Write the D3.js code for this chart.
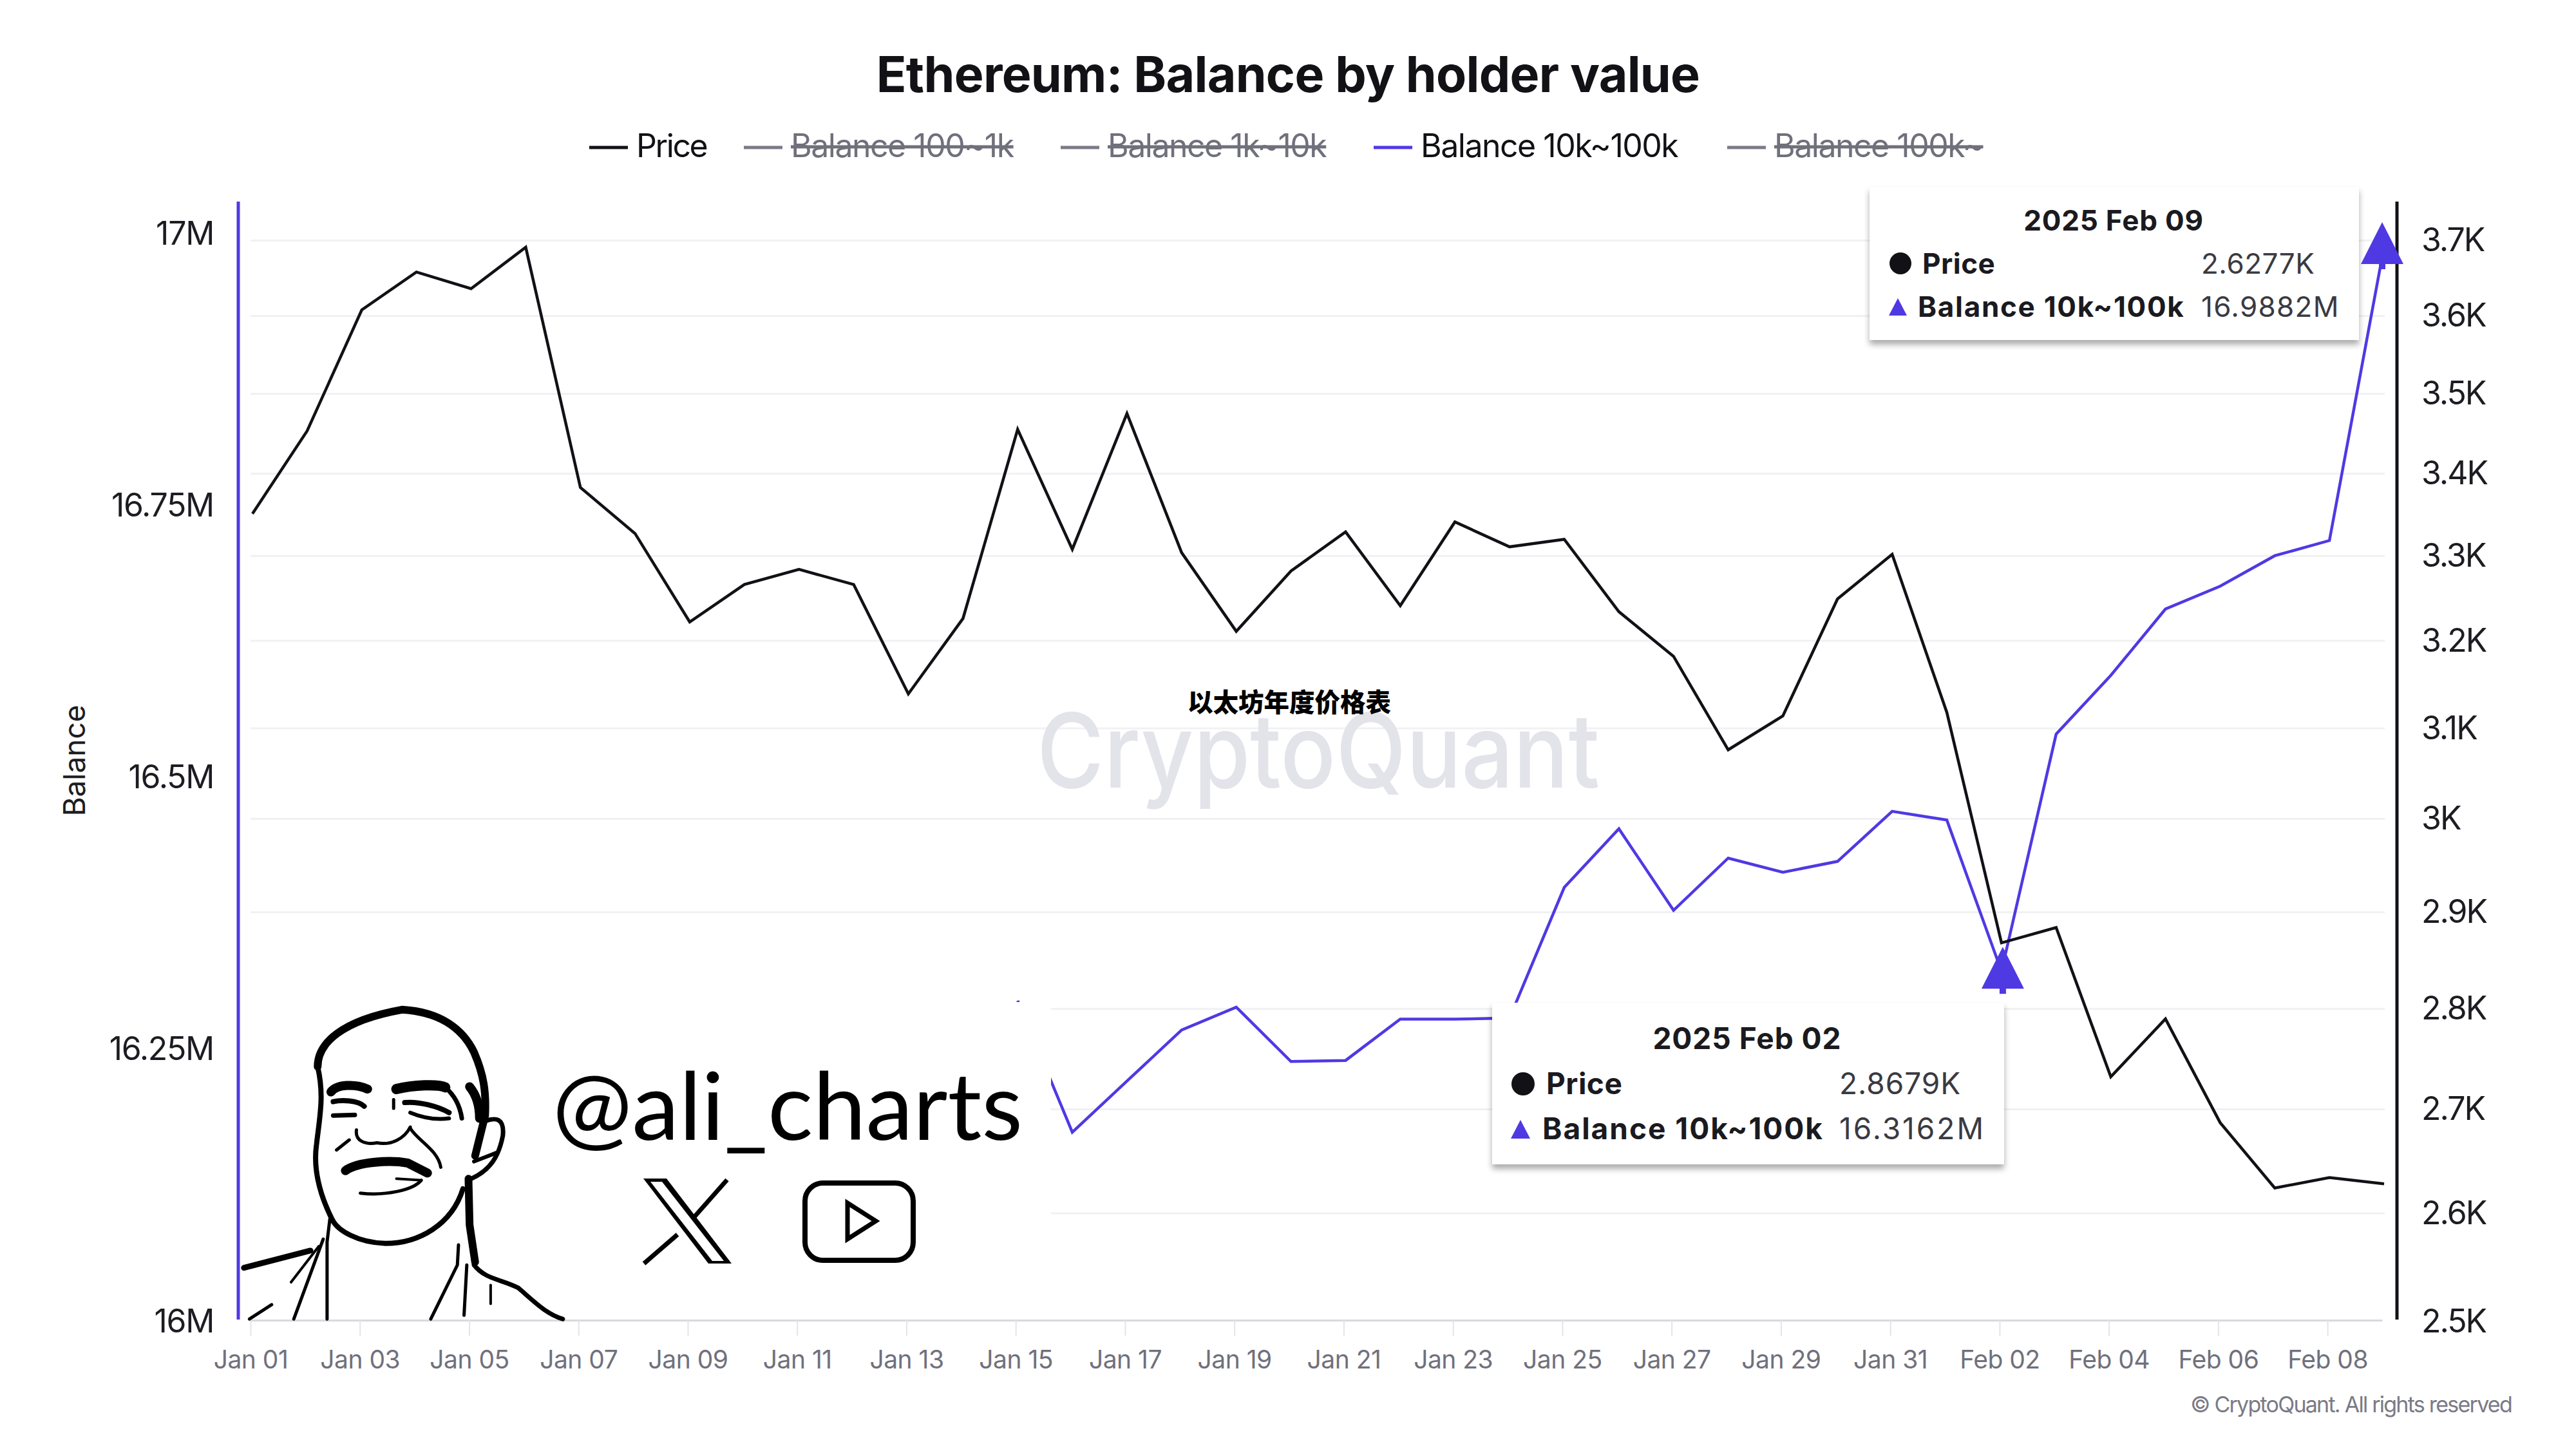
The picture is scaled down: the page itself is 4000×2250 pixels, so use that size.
<!DOCTYPE html>
<html>
<head>
<meta charset="utf-8">
<script src="https://d3js.org/d3.v7.min.js"></script>
<style>
  html, body { margin: 0; padding: 0; background: #fff; }
  text { font-family: Inter, "Noto Sans", sans-serif; }
</style>
</head>
<body>
<div id="chart-area"></div>
<script>
// --- Data ---
var days = ["Jan 01","Jan 02","Jan 03","Jan 04","Jan 05","Jan 06","Jan 07","Jan 08","Jan 09","Jan 10",
  "Jan 11","Jan 12","Jan 13","Jan 14","Jan 15","Jan 16","Jan 17","Jan 18","Jan 19","Jan 20",
  "Jan 21","Jan 22","Jan 23","Jan 24","Jan 25","Jan 26","Jan 27","Jan 28","Jan 29","Jan 30","Jan 31",
  "Feb 01","Feb 02","Feb 03","Feb 04","Feb 05","Feb 06","Feb 07","Feb 08","Feb 09"];

var price = [3351,3453,3608,3658,3636,3691,3383,3327,3222,3266,
  3284,3266,3139,3226,3455,3308,3475,3304,3211,3282,
  3329,3241,3341,3311,3320,3234,3182,3076,3114,3249,3302,
  3118,2868,2884,2732,2790,2687,2624,2634,2628];

// Jan 01 - Jan 14 sit behind the pasted sticker and cannot be read
var balance = [null,null,null,null,null,null,null,null,null,null,null,null,null,null,
  16.295,16.174,16.221,16.268,16.289,16.239,
  16.240,16.278,16.278,16.279,16.399,16.453,16.378,16.426,16.413,16.423,16.469,
  16.461,16.322,16.540,16.594,16.655,16.676,16.704,16.718,16.9882];

var xTickDays = days.filter(function(d, i) { return i % 2 === 0; });
var balanceTicks = [16, 16.25, 16.5, 16.75, 17];
var priceTicks = [2500,2600,2700,2800,2900,3000,3100,3200,3300,3400,3500,3600,3700];

var legendNames = ["Price", "Balance 100~1k", "Balance 1k~10k", "Balance 10k~100k", "Balance 100k~"];
var legendOff = [false, true, true, false, true];
var legendColors = ["#111116", "#7b7b88", "#7b7b88", "#4f39e3", "#7b7b88"];

var tipDates = ["2025 Feb 02", "2025 Feb 09"];
var tipPrices = ["2.8679K", "2.6277K"];
var tipBalances = ["16.3162M", "16.9882M"];
var markerDays = ["Feb 02", "Feb 09"];

var purple = "#4f39e3", ink = "#111116", grey = "#70707c";

// --- Setup the canvas ---
var svg = d3.select("#chart-area").append("svg")
    .attr("width", 4000)
    .attr("height", 2250)
    .style("display", "block");

var defs = svg.append("defs");
var shadow = defs.append("filter").attr("id", "tipShadow")
    .attr("x", "-5%").attr("y", "-5%").attr("width", "110%").attr("height", "115%");
shadow.append("feDropShadow")
    .attr("dx", 0).attr("dy", 7).attr("stdDeviation", 5)
    .attr("flood-color", "#000").attr("flood-opacity", 0.33);

// --- Scales ---
var plotTop = 316, plotBottom = 2052;
var x = d3.scalePoint().domain(days).range([392, 3702]);
var yLeft = d3.scaleLinear().domain([16, 16 + (plotBottom - plotTop) / 1689]).range([plotBottom, plotTop]);
var yRight = d3.scaleLog().domain([2500, 3750]).range([plotBottom, plotTop]);

// --- Gridlines follow the price axis ---
svg.append("g").selectAll("line").data(priceTicks.slice(1)).enter().append("line")
    .attr("x1", 389).attr("x2", 3703)
    .attr("y1", function(d) { return yRight(d); })
    .attr("y2", function(d) { return yRight(d); })
    .attr("stroke", "#f1f1f4").attr("stroke-width", 3);

// --- Watermark ---
svg.append("text").text("CryptoQuant")
    .attr("x", 1610).attr("y", 1223)
    .attr("font-size", 160).attr("font-weight", 500)
    .attr("textLength", 874).attr("lengthAdjust", "spacingAndGlyphs")
    .attr("fill", "#e3e3ea");

// --- Axes ---
var xAxis = d3.axisBottom(x).tickValues(xTickDays).tickSize(24).tickPadding(23).tickSizeOuter(0);
var xAxisGroup = svg.append("g")
    .attr("transform", "translate(-3,2050)")
    .call(xAxis);
xAxisGroup.select(".domain").attr("stroke", "#d9d9de").attr("stroke-width", 3);
xAxisGroup.selectAll(".tick line").attr("stroke", "#e4e4e8").attr("stroke-width", 2);
xAxisGroup.selectAll(".tick text").attr("font-size", 39).attr("letter-spacing", -0.5)
    .attr("fill", grey).style("font-family", "Inter");

var leftAxis = d3.axisLeft(yLeft).tickValues(balanceTicks).tickSize(0).tickPadding(38)
    .tickFormat(function(d) { return d + "M"; });
var leftAxisGroup = svg.append("g").attr("transform", "translate(370,0)").call(leftAxis);
leftAxisGroup.select(".domain").remove();
leftAxisGroup.selectAll(".tick text").attr("font-size", 50).attr("letter-spacing", -1.3)
    .attr("fill", "#1c1c22").style("font-family", "Inter");
leftAxisGroup.append("line").attr("y1", 313).attr("y2", 2049).attr("stroke", purple).attr("stroke-width", 5);

var rightAxis = d3.axisRight(yRight).tickValues(priceTicks).tickSize(0).tickPadding(38)
    .tickFormat(function(d) { return (d / 1000) + "K"; });
var rightAxisGroup = svg.append("g").attr("transform", "translate(3722,0)").call(rightAxis);
rightAxisGroup.select(".domain").remove();
rightAxisGroup.selectAll(".tick text").attr("font-size", 50).attr("letter-spacing", -2)
    .attr("fill", "#1c1c22").style("font-family", "Inter");
rightAxisGroup.append("line").attr("y1", 313).attr("y2", 2049).attr("stroke", ink).attr("stroke-width", 5);

svg.append("text").text("Balance")
    .attr("transform", "translate(115,1181) rotate(-90)")
    .attr("text-anchor", "middle").attr("dominant-baseline", "central")
    .attr("font-size", 46).attr("fill", "#1c1c22");

// --- Lines ---
var priceLine = d3.line()
    .x(function(d, i) { return x(days[i]); })
    .y(function(d) { return yRight(d); });
var balanceLine = d3.line()
    .defined(function(d) { return d !== null; })
    .x(function(d, i) { return x(days[i]); })
    .y(function(d) { return yLeft(d); });

svg.append("path").datum(balance).attr("d", balanceLine)
    .attr("fill", "none").attr("stroke", purple).attr("stroke-width", 4.5).attr("stroke-linejoin", "miter");
svg.append("path").datum(price).attr("d", priceLine)
    .attr("fill", "none").attr("stroke", ink).attr("stroke-width", 4.5).attr("stroke-linejoin", "miter");

// --- Title and legend ---
svg.append("text").text("Ethereum: Balance by holder value")
    .attr("x", 2000).attr("y", 143).attr("text-anchor", "middle")
    .attr("font-size", 77).attr("font-weight", 700).attr("letter-spacing", -0.7).attr("fill", ink);
svg.append("text").text("以太坊年度价格表")
    .attr("x", 1844).attr("y", 1105)
    .attr("font-size", 39.5).attr("font-weight", 900).attr("fill", "#000")
    .style("font-family", "'Noto Sans CJK SC'");

var legendX = [915, 1155, 1647, 2133, 2682];
var legend = svg.append("g").selectAll("g").data(legendNames).enter().append("g")
    .attr("transform", function(d, i) { return "translate(" + legendX[i] + ",226)"; });
legend.append("line").attr("x1", 0).attr("x2", 60).attr("y1", 3).attr("y2", 3)
    .attr("stroke", function(d, i) { return legendColors[i]; }).attr("stroke-width", 5);
legend.append("text").text(function(d) { return d; })
    .attr("x", 73).attr("y", 18).attr("font-size", 50)
    .attr("letter-spacing", function(d, i) { return i === 0 ? -2.4 : -1.5; })
    .attr("fill", function(d, i) { return legendOff[i] ? grey : ink; })
    .attr("text-decoration", function(d, i) { return legendOff[i] ? "line-through" : null; });

// --- Copyright ---
svg.append("text").text("© CryptoQuant. All rights reserved")
    .attr("x", 3900).attr("y", 2193).attr("text-anchor", "end")
    .attr("font-size", 34).attr("letter-spacing", -1.75).attr("fill", "#7a7a86");

// --- Sticker pasted over the lower left corner ---
var sticker = svg.append("g");
sticker.append("rect").attr("x", 373).attr("y", 1556).attr("width", 1259).attr("height", 492).attr("fill", "#fff");

// drawing coordinates come from a stretched crop, so squash them back
var face = sticker.append("g").attr("transform", "translate(340,1500) scale(0.861,0.4464)")
    .attr("fill", "none").attr("stroke", "#000").attr("stroke-linecap", "round").attr("stroke-linejoin", "round");
var faceStrokes = [
  [8, "M205 885C215 920 250 962 300 965C360 965 420 900 440 775"],
  [8, "M205 885C180 790 170 700 176 620C182 520 190 450 178 350"],
  [12, "M178 350C178 270 220 190 330 152C400 160 440 220 460 300C478 380 482 440 480 520L462 660"],
  [7, "M480 540C500 525 515 530 512 590C505 660 490 710 455 740"],
  [6, "M460 680L500 650"],
  [14, "M452 420C465 450 470 490 470 530"],
  [12, "M450 740L452 900L462 1030"],
  [7, "M460 1040C480 1090 510 1090 540 1120C570 1170 590 1210 620 1228"],
  [5, "M432 970L430 1040L382 1228"],
  [5, "M447 1040L442 1215"],
  [4, "M490 1110L490 1175"],
  [5, "M200 880L195 960L195 1228"],
  [5, "M188 950L135 1228"],
  [4, "M180 975L130 1100"],
  [9, "M165 990L45 1050"],
  [5, "M95 1178L55 1228"],
  [14, "M202 438C212 412 245 408 268 428"],
  [16, "M320 428C350 414 395 410 408 422"],
  [7, "M408 422C425 450 435 490 438 530"],
  [8, "M206 472C220 466 250 466 262 488"],
  [7, "M206 520L245 518"],
  [8, "M335 475C360 470 395 488 415 510"],
  [6, "M345 510C370 530 395 535 415 530"],
  [5, "M315 465L315 495"],
  [5, "M248 570C245 610 265 622 285 615C310 625 335 600 345 560"],
  [5, "M345 565C360 610 395 640 400 700"],
  [5, "M235 605L212 640"],
  [14, "M228 712C250 680 310 675 340 685L376 720"],
  [5, "M255 790C300 800 350 780 365 745"],
  [4, "M320 740L362 745"]
];
face.selectAll("path").data(faceStrokes).enter().append("path")
    .attr("d", function(d) { return d[1]; })
    .attr("stroke-width", function(d) { return d[0]; })
    .attr("vector-effect", "non-scaling-stroke");

sticker.append("text").text("@ali_charts")
    .attr("x", 858).attr("y", 1770)
    .attr("font-size", 146).attr("textLength", 730).attr("lengthAdjust", "spacingAndGlyphs")
    .attr("fill", "#000").style("font-family", "Lato");

// X logo
sticker.append("path")
    .attr("d", "M999 1830L1035 1830L1136 1962L1100 1962ZM1010 1835L1028 1835L1124 1958L1106 1958Z")
    .attr("fill", "#000").attr("fill-rule", "evenodd");
sticker.append("path").attr("d", "M1129 1832L1076 1892M1052 1917L1000 1962")
    .attr("stroke", "#000").attr("stroke-width", 7).attr("fill", "none");

// play button
sticker.append("rect").attr("x", 1250).attr("y", 1837).attr("width", 168).attr("height", 120)
    .attr("rx", 28).attr("fill", "none").attr("stroke", "#000").attr("stroke-width", 8);
sticker.append("path").attr("d", "M1316 1868L1360 1896L1316 1924Z")
    .attr("fill", "none").attr("stroke", "#000").attr("stroke-width", 7);

// --- Tooltips ---
var tipBoxes = [
  {x: 2317, y: 1557, w: 795, h: 251, size: 46, titleX: 2713, titleY: 1629, dotX: 2365, dotY: 1683, r: 18,
   priceX: 2401, priceY: 1699, valX: 2856, triX: 2361, triTop: 1739, triBase: 1768, triW: 15, balX: 2395, balY: 1769,
   titleLs: 1, boldLs: 2, valLs: 3, priceLs: 0.5, priceValLs: 1},
  {x: 2903, y: 290, w: 760, h: 238, size: 44, titleX: 3282, titleY: 358, dotX: 2951, dotY: 409, r: 17,
   priceX: 2985, priceY: 425, valX: 3418, triX: 2947, triTop: 463, triBase: 490, triW: 14, balX: 2978, balY: 492,
   titleLs: 0.8, boldLs: 1.7, valLs: 1.3, priceLs: 0.5, priceValLs: 0.5}
];
var tips = svg.append("g").selectAll("g").data(tipBoxes).enter().append("g");
tips.append("rect")
    .attr("x", function(d) { return d.x; }).attr("y", function(d) { return d.y; })
    .attr("width", function(d) { return d.w; }).attr("height", function(d) { return d.h; })
    .attr("fill", "#fff").attr("filter", "url(#tipShadow)");
tips.append("text").text(function(d, i) { return tipDates[i]; })
    .attr("x", function(d) { return d.titleX; }).attr("y", function(d) { return d.titleY; })
    .attr("text-anchor", "middle").attr("font-weight", 700).attr("fill", "#1a1a20")
    .attr("letter-spacing", function(d) { return d.titleLs; })
    .attr("font-size", function(d) { return d.size; });
tips.append("circle")
    .attr("cx", function(d) { return d.dotX; }).attr("cy", function(d) { return d.dotY; })
    .attr("r", function(d) { return d.r; }).attr("fill", ink);
tips.append("text").text("Price")
    .attr("x", function(d) { return d.priceX; }).attr("y", function(d) { return d.priceY; })
    .attr("font-weight", 700).attr("fill", "#1a1a20")
    .attr("letter-spacing", function(d) { return d.priceLs; })
    .attr("font-size", function(d) { return d.size; });
tips.append("text").text(function(d, i) { return tipPrices[i]; })
    .attr("x", function(d) { return d.valX; }).attr("y", function(d) { return d.priceY; })
    .attr("fill", "#3a3a42")
    .attr("letter-spacing", function(d) { return d.priceValLs; })
    .attr("font-size", function(d) { return d.size; });
tips.append("path")
    .attr("d", function(d) {
      return "M" + d.triX + " " + d.triTop + "L" + (d.triX + d.triW) + " " + d.triBase + "L" + (d.triX - d.triW) + " " + d.triBase + "Z";
    })
    .attr("fill", purple);
tips.append("text").text("Balance 10k~100k")
    .attr("x", function(d) { return d.balX; }).attr("y", function(d) { return d.balY; })
    .attr("font-weight", 700).attr("fill", "#1a1a20")
    .attr("letter-spacing", function(d) { return d.boldLs; })
    .attr("font-size", function(d) { return d.size; });
tips.append("text").text(function(d, i) { return tipBalances[i]; })
    .attr("x", function(d) { return d.valX; }).attr("y", function(d) { return d.balY; })
    .attr("fill", "#3a3a42")
    .attr("letter-spacing", function(d) { return d.valLs; })
    .attr("font-size", function(d) { return d.size; });

// --- Hover markers on the balance line ---
var markerShift = [2, -3];
svg.append("g").selectAll("path").data(markerDays).enter().append("path")
    .attr("transform", function(d, i) {
      return "translate(" + (x(d) + markerShift[i]) + "," + yLeft(balance[days.indexOf(d)]) + ")";
    })
    .attr("d", "M0 -38L33 27L5 27L5 35L-5 35L-5 27L-33 27Z")
    .attr("fill", purple);
</script>
</body>
</html>
